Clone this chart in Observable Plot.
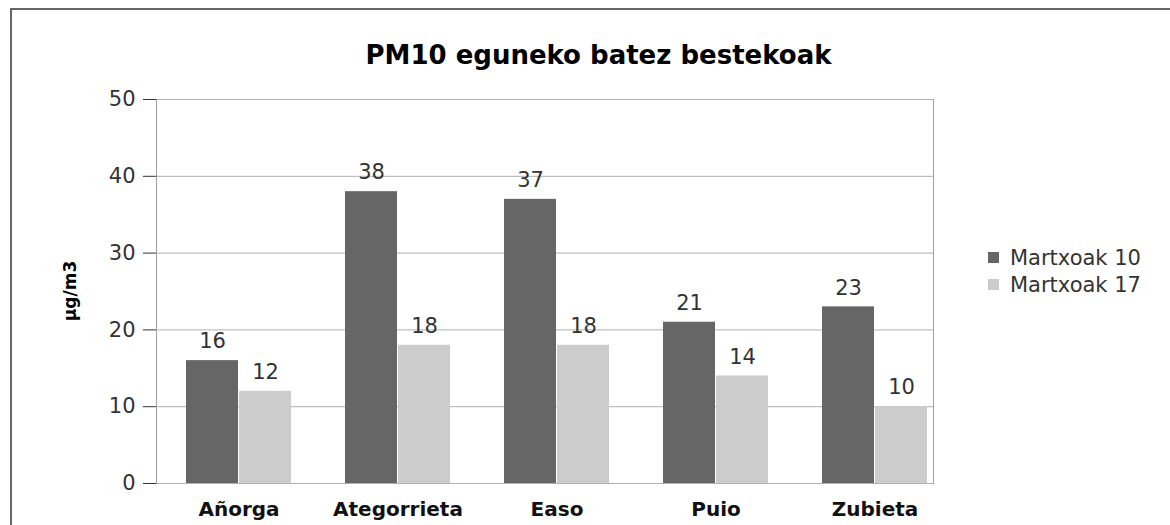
<!DOCTYPE html>
<html><head><meta charset="utf-8">
<script src="https://cdn.jsdelivr.net/npm/d3@7"></script>
<script src="https://cdn.jsdelivr.net/npm/@observablehq/plot@0.6"></script>
<style>
html,body{margin:0;padding:0;background:#fff;}
body{width:1170px;height:525px;overflow:hidden;position:relative;font-family:"DejaVu Sans",sans-serif;}
#frame{position:absolute;left:10px;top:8px;width:1200px;height:600px;border:2px solid #666;box-sizing:border-box;}
#chart{position:absolute;left:0;top:0;}
#title{position:absolute;left:0;width:1197px;top:40px;text-align:center;font-weight:bold;font-size:26px;line-height:30px;color:#000;}
#ylabel{position:absolute;left:70px;top:291px;transform:translate(-50%,-50%) rotate(-90deg);font-weight:bold;font-size:17px;color:#000;white-space:nowrap;}
#legend{position:absolute;left:988px;top:244px;font-size:21px;color:#333;}
#legend div{display:flex;align-items:center;height:27px;}
#legend span.sw{display:inline-block;width:11px;height:11px;margin-right:11px;}
[aria-label^="x-axis"] text{font-weight:bold;fill:#111;font-size:20px;}
</style></head>
<body>
<div id="frame"></div>
<div id="chart"></div>
<div id="title">PM10 eguneko batez bestekoak</div>
<div id="ylabel">µg/m3</div>
<div id="legend"></div>
<script>
const stations = ["Añorga", "Ategorrieta", "Easo", "Puio", "Zubieta"];
const series = ["Martxoak 10", "Martxoak 17"];
const values10 = [16, 38, 37, 21, 23];
const values17 = [12, 18, 18, 14, 10];
const colors = ["#666666", "#cccccc"];
const yTicks = [0, 10, 20, 30, 40, 50];

const d10 = stations.map((s, i) => ({station: s, series: series[0], value: values10[i]}));
const d17 = stations.map((s, i) => ({station: s, series: series[1], value: values17[i]}));
const half = 53;

const chart = Plot.plot({
  width: 1170, height: 525,
  marginLeft: 156, marginRight: 237, marginTop: 99, marginBottom: 42,
  style: {fontSize: "21px", fontFamily: "'DejaVu Sans', sans-serif", color: "#333", background: "transparent"},
  x: {domain: stations, paddingInner: 0.3375, paddingOuter: 0.097, align: 0.84, tickSize: 0, tickPadding: 18, label: null},
  y: {domain: [0, 50], ticks: yTicks, tickSize: 13, tickPadding: 8, label: null},
  color: {domain: series, range: colors},
  marks: [
    Plot.ruleY(yTicks, {stroke: "#b0b0b0", strokeWidth: 1}),
    Plot.barY(d10, {x: "station", y: "value", fill: d => d.series, insetRight: half, insetLeft: 0}),
    Plot.barY(d17, {x: "station", y: "value", fill: d => d.series, insetLeft: half, insetRight: 0}),
    Plot.text(d10, {x: "station", y: "value", text: "value", dx: -half/2, dy: -19, fill: "#333", fontSize: 21}),
    Plot.text(d17, {x: "station", y: "value", text: "value", dx: half/2, dy: -19, fill: "#333", fontSize: 21}),
    Plot.frame({anchor: "left", stroke: "#a0a0a0"}),
    Plot.frame({anchor: "right", stroke: "#a0a0a0"})
  ]
});
document.getElementById("chart").appendChild(chart);

const leg = document.getElementById("legend");
series.forEach((s, i) => {
  const row = document.createElement("div");
  row.innerHTML = `<span class="sw" style="background:${colors[i]}"></span>${s}`;
  leg.appendChild(row);
});
</script>
</body></html>
